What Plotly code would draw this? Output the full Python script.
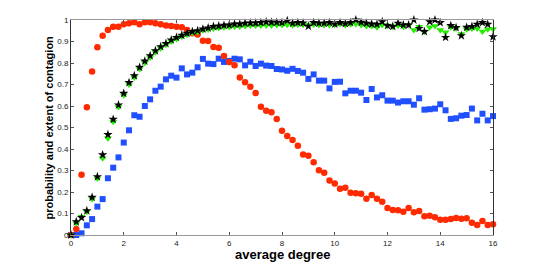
import plotly.graph_objects as go

x = [round(i * 0.2, 1) for i in range(81)]

prob_red = [0.0, 0.028, 0.28, 0.594, 0.76, 0.873, 0.927, 0.953, 0.969, 0.969,
            0.98, 0.985, 0.99, 0.98, 0.99, 0.99, 0.985, 0.98, 0.975, 0.972,
            0.969, 0.966, 0.953, 0.938, 0.933, 0.903, 0.902, 0.874, 0.871, 0.833,
            0.805, 0.789, 0.732, 0.71, 0.69, 0.66, 0.597, 0.578, 0.571, 0.54,
            0.485, 0.46, 0.442, 0.415, 0.375, 0.369, 0.338, 0.301, 0.29, 0.254,
            0.24, 0.215, 0.22, 0.197, 0.194, 0.192, 0.169, 0.186, 0.169, 0.155,
            0.126, 0.116, 0.115, 0.108, 0.126, 0.106, 0.112, 0.087, 0.09, 0.082,
            0.071, 0.071, 0.074, 0.079, 0.076, 0.078, 0.057, 0.047, 0.065, 0.047,
            0.05]

extent_blue = [0.0, 0.0, 0.008, 0.045, 0.074, 0.132, 0.167, 0.264, 0.313, 0.361,
               0.43, 0.487, 0.557, 0.55, 0.6, 0.631, 0.671, 0.69, 0.724, 0.741,
               0.732, 0.775, 0.747, 0.755, 0.78, 0.819, 0.797, 0.795, 0.82, 0.805,
               0.81, 0.82, 0.817, 0.789, 0.806, 0.786, 0.797, 0.788, 0.786, 0.772,
               0.77, 0.764, 0.773, 0.763, 0.755, 0.726, 0.747, 0.718, 0.718, 0.682,
               0.712, 0.713, 0.659, 0.671, 0.671, 0.662, 0.628, 0.679, 0.64, 0.65,
               0.625, 0.625, 0.616, 0.622, 0.622, 0.606, 0.636, 0.583, 0.585, 0.588,
               0.608, 0.58, 0.54, 0.543, 0.555, 0.558, 0.588, 0.533, 0.564, 0.533,
               0.553]

prob_green = [0.0, 0.055, 0.085, 0.108, 0.167, 0.263, 0.357, 0.45, 0.527, 0.595,
              0.65, 0.7, 0.733, 0.772, 0.801, 0.826, 0.85, 0.869, 0.885, 0.9,
              0.912, 0.922, 0.931, 0.94, 0.944, 0.952, 0.956, 0.961, 0.963, 0.966,
              0.968, 0.97, 0.97, 0.972, 0.974, 0.974, 0.975, 0.976, 0.975, 0.977,
              0.977, 0.978, 0.976, 0.978, 0.978, 0.977, 0.979, 0.977, 0.977, 0.977,
              0.978, 0.981, 0.977, 0.98, 0.981, 0.977, 0.972, 0.972, 0.966, 0.977,
              0.974, 0.969, 0.974, 0.969, 0.977, 0.953, 0.969, 0.946, 0.966, 0.972,
              0.953, 0.943, 0.966, 0.961, 0.935, 0.957, 0.961, 0.961, 0.946, 0.957,
              0.958]

extent_black = [0.0, 0.062, 0.081, 0.113, 0.175, 0.271, 0.373, 0.467, 0.538, 0.605,
                0.659, 0.709, 0.741, 0.78, 0.809, 0.834, 0.857, 0.876, 0.891, 0.907,
                0.919, 0.929, 0.938, 0.946, 0.95, 0.958, 0.963, 0.97, 0.972, 0.975,
                0.977, 0.981, 0.981, 0.985, 0.986, 0.986, 0.988, 0.991, 0.989, 0.989,
                0.988, 0.997, 0.985, 0.988, 0.986, 0.971, 0.988, 0.985, 0.985, 0.988,
                0.981, 0.988, 0.983, 0.988, 1.0, 0.989, 0.985, 0.981, 0.98, 0.992,
                0.974, 0.97, 0.985, 0.977, 0.977, 1.0, 0.961, 0.946, 0.992, 1.0,
                0.988, 0.919, 0.974, 0.965, 0.927, 0.966, 0.97, 0.98, 0.988, 0.98,
                0.922]

x_ticks = [0, 2, 4, 6, 8, 10, 12, 14, 16]
y_ticks = [0, 0.1, 0.2, 0.3, 0.4, 0.5, 0.6, 0.7, 0.8, 0.9, 1]
y_tick_text = ["0", "0.1", "0.2", "0.3", "0.4", "0.5", "0.6", "0.7", "0.8", "0.9", "1"]

fig = go.Figure()
fig.add_trace(go.Scatter(x=x, y=extent_blue, mode="markers", cliponaxis=False,
                         marker=dict(symbol="square", size=6, color="#1f4fff", line=dict(width=0))))
fig.add_trace(go.Scatter(x=x, y=prob_red, mode="markers", cliponaxis=False,
                         marker=dict(symbol="circle", size=6.5, color="#ff2a00", line=dict(width=0))))
fig.add_trace(go.Scatter(x=x, y=prob_green, mode="markers", cliponaxis=False,
                         marker=dict(symbol="triangle-down", size=7, color="#22ee00", line=dict(width=0))))
fig.add_trace(go.Scatter(x=x, y=extent_black, mode="markers", cliponaxis=False,
                         marker=dict(symbol="star", size=7, color="black", line=dict(width=0))))

fig.update_layout(
    width=545, height=264,
    margin=dict(l=71, r=52, t=20, b=29),
    paper_bgcolor="white", plot_bgcolor="white",
    showlegend=False,
    font=dict(family="Liberation Sans, Arial", size=8, color="#222"),
    xaxis=dict(range=[0, 16], tickvals=x_ticks, ticks="inside", ticklen=3,
               tickcolor="#555", showline=True, linecolor="#999", linewidth=1,
               mirror="ticks", showgrid=False, zeroline=False,
               tickfont=dict(size=8)),
    yaxis=dict(range=[0, 1], tickvals=y_ticks, ticktext=y_tick_text, ticks="inside",
               ticklen=3, tickcolor="#555", showline=True, linecolor="#333",
               linewidth=1, mirror="ticks", showgrid=False, zeroline=False,
               tickfont=dict(size=8)),
    annotations=[
        dict(text="<b>average degree</b>", x=0.5, xref="paper", y=-0.092, yref="paper",
             showarrow=False, font=dict(size=13, color="black"), yanchor="middle"),
        dict(text="<b>probability and extent of contagion</b>", x=-0.0545, xref="paper",
             y=0.5, yref="paper", showarrow=False, textangle=-90,
             font=dict(size=11, color="black"), xanchor="center"),
    ],
)

fig.write_html("out.html", config={"displayModeBar": False},
               post_script="document.body.style.margin='0';")
